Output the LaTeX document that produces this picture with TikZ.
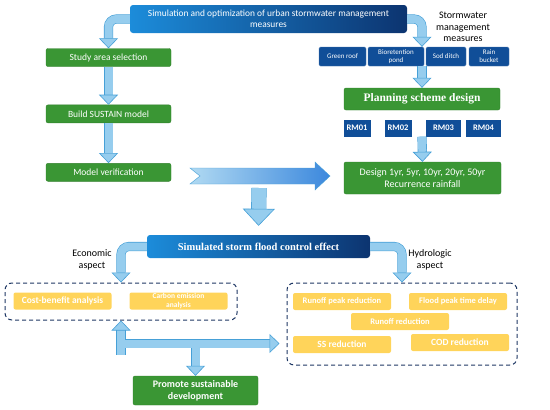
\documentclass[tikz,border=0pt]{standalone}
\usepackage{fontspec}
\setmainfont{Carlito}
\newfontfamily\titlefont{Liberation Serif}
\usetikzlibrary{positioning, arrows.meta}

\definecolor{boxgreen}{RGB}{58,150,52}
\definecolor{boxblue}{RGB}{16,78,152}
\definecolor{boxyellow}{RGB}{255,212,90}
\definecolor{arrowfill}{RGB}{150,205,238}
\definecolor{arrowedge}{RGB}{70,160,215}
\definecolor{titlelight}{RGB}{28,140,218}
\definecolor{titledark}{RGB}{12,52,112}
\definecolor{groupline}{RGB}{30,55,100}

\begin{document}
\begin{tikzpicture}[x=1pt, y=-1pt]
    % Styles
    \tikzstyle{titleblock} = [rectangle, rounded corners=3pt, left color=titlelight,
        right color=titledark, text=white, align=center, inner sep=2pt]
    \tikzstyle{stepblock} = [rectangle, draw=boxgreen!85!black, fill=boxgreen, text=white,
        rounded corners=2pt, minimum width=125pt, minimum height=18pt, align=center,
        font=\fontsize{9.5}{11}\selectfont]
    \tikzstyle{measure} = [rectangle, fill=boxblue, draw=boxblue!80!white, text=white,
        rounded corners=1.5pt, minimum height=19pt, inner sep=1pt, align=center,
        font=\fontsize{7}{8}\selectfont]
    \tikzstyle{rmblock} = [rectangle, fill=boxblue, text=white, minimum height=17pt,
        inner sep=1pt, font=\fontsize{8.5}{10}\selectfont\bfseries]
    \tikzstyle{effectblock} = [rectangle, fill=boxyellow, text=white, rounded corners=2pt,
        minimum width=98pt, minimum height=17pt, inner sep=1pt, align=center,
        font=\fontsize{8.5}{9.5}\selectfont\bfseries]
    \tikzstyle{groupbox} = [rectangle, draw=groupline, line width=1pt, rounded corners=7pt,
        dash pattern=on 4pt off 3pt]
    \tikzstyle{sidetext} = [align=center, font=\fontsize{10}{11.5}\selectfont]
    \tikzstyle{fatarrow} = [draw=arrowedge, line width=0.6pt, double=arrowfill,
        double distance=8pt, rounded corners=8pt,
        -{Triangle[width=19pt, length=10pt, fill=arrowfill]}]
    \tikzstyle{bigarrow} = [fatarrow, double distance=14pt,
        -{Triangle[width=32pt, length=17pt, fill=arrowfill]}]

    \useasboundingbox (0,0) rectangle (550,410);

    % === TOP ===
    \node [titleblock, minimum width=277pt, minimum height=28pt,
        font=\fontsize{9.4}{10.5}\selectfont] (optim) at (268.5,19)
        {Simulation and optimization of urban stormwater management\\measures};

    % === LEFT COLUMN: Model ===
    \node [stepblock] (study) at (108.5,57.5) {Study area selection};
    \node [stepblock, below=38pt of study] (build) {Build SUSTAIN model};
    \node [stepblock, below=40pt of build] (verify) {Model verification};

    % === RIGHT COLUMN: Measures and schemes ===
    \node [sidetext] (swlabel) at (463,27) {Stormwater\\management\\measures};
    \node [measure, minimum width=47pt] (roof) at (342.5,56.5) {Green roof};
    \node [measure, minimum width=56pt] (biopond) at (396,56.5) {Bioretention\\pond};
    \node [measure, minimum width=40pt] (sod) at (446,56.5) {Sod ditch};
    \node [measure, minimum width=40pt] (rain) at (489,56.5) {Rain\\bucket};

    \node [stepblock, minimum width=156pt, minimum height=22pt,
        font=\titlefont\bfseries\fontsize{11.5}{13}\selectfont] (plan) at (422,99)
        {Planning scheme design};

    \node [rmblock, minimum width=27pt] (rm01) at (357,128) {RM01};
    \node [rmblock, minimum width=27pt] (rm02) at (398,128) {RM02};
    \node [rmblock, minimum width=35pt] (rm03) at (443.5,128) {RM03};
    \node [rmblock, minimum width=35pt] (rm04) at (483.5,128) {RM04};

    \node [stepblock, minimum width=157pt, minimum height=32pt,
        font=\fontsize{10}{12}\selectfont] (design) at (422.5,178)
        {Design 1yr, 5yr, 10yr, 20yr, 50yr\\Recurrence rainfall};

    % === MIDDLE: Effect ===
    \node [titleblock, minimum width=223pt, minimum height=23pt,
        font=\titlefont\bfseries\fontsize{10.5}{12}\selectfont] (effect) at (258.5,246.5)
        {Simulated storm flood control effect};

    \node [sidetext] (econlabel) at (92,260) {Economic\\aspect};
    \node [sidetext] (hydrolabel) at (430,260) {Hydrologic\\aspect};

    % Economic group
    \node [groupbox, minimum width=232pt, minimum height=37pt] (econ) at (121,301.5) {};
    \node [effectblock, font=\fontsize{9.5}{11}\selectfont\bfseries] (cost) at (62.5,301)
        {Cost-benefit analysis};
    \node [effectblock, font=\fontsize{7.5}{8.5}\selectfont\bfseries] (carbon) at (178.5,301)
        {Carbon emission\\analysis};

    % Hydrologic group
    \node [groupbox, minimum width=230pt, minimum height=82pt] (hydro) at (402,324) {};
    \node [effectblock] (rpeak) at (342,301.5) {Runoff peak reduction};
    \node [effectblock] (fpeak) at (458,301.5) {Flood peak time delay};
    \node [effectblock] (runoff) at (400,321.5) {Runoff reduction};
    \node [effectblock, font=\fontsize{9.5}{11}\selectfont\bfseries] (ss) at (342,344.5)
        {SS reduction};
    \node [effectblock, font=\fontsize{9.5}{11}\selectfont\bfseries] (cod) at (460,342.5)
        {COD reduction};

    % Output
    \node [stepblock, minimum height=29pt, font=\fontsize{10}{12}\selectfont\bfseries]
        (promote) at (195.5,390.5) {Promote sustainable\\development};

    % === ARROWS ===
    \draw [fatarrow] (optim.west) -| (study.north);
    \draw [fatarrow] (optim.east) -| (plan.north |- sod.north);
    \draw [fatarrow] (study) -- (build);
    \draw [fatarrow] (build) -- (verify);
    \draw [fatarrow] (plan.north |- sod.south) -- (plan.north);
    \draw [fatarrow] (plan.south |- rm03.south) -- (design.north);

    % Chevron from model to design
    \coordinate (chev) at (190,176);
    \shadedraw [left color=arrowfill!75, right color=arrowedge!85!blue, draw=arrowedge]
        (chev) ++(0,-8) -- ++(125,0) -- ++(0,-6) -- ++(15,14) -- ++(-15,14)
        -- ++(0,-6) -- ++(-125,0) -- ++(10,-8) -- cycle;

    \coordinate (drop) at (259,188);
    \draw [bigarrow, shorten >=9pt] (drop) -- (effect.north);

    \draw [fatarrow] (effect.west) -| (econ.north);
    \draw [fatarrow] (effect.east) -| (hydro.north);

    % Bottom connections
    \coordinate [below=23pt of econ.south] (hub);
    \draw [fatarrow] (hub) ++(0,11) -- (econ.south);
    \draw [fatarrow, shorten >=7pt] (hub) ++(4,0) -- (hub -| hydro.west);
    \draw [fatarrow] (hub -| promote.north) ++(0,4) -- (promote.north);

\end{tikzpicture}
\end{document}
